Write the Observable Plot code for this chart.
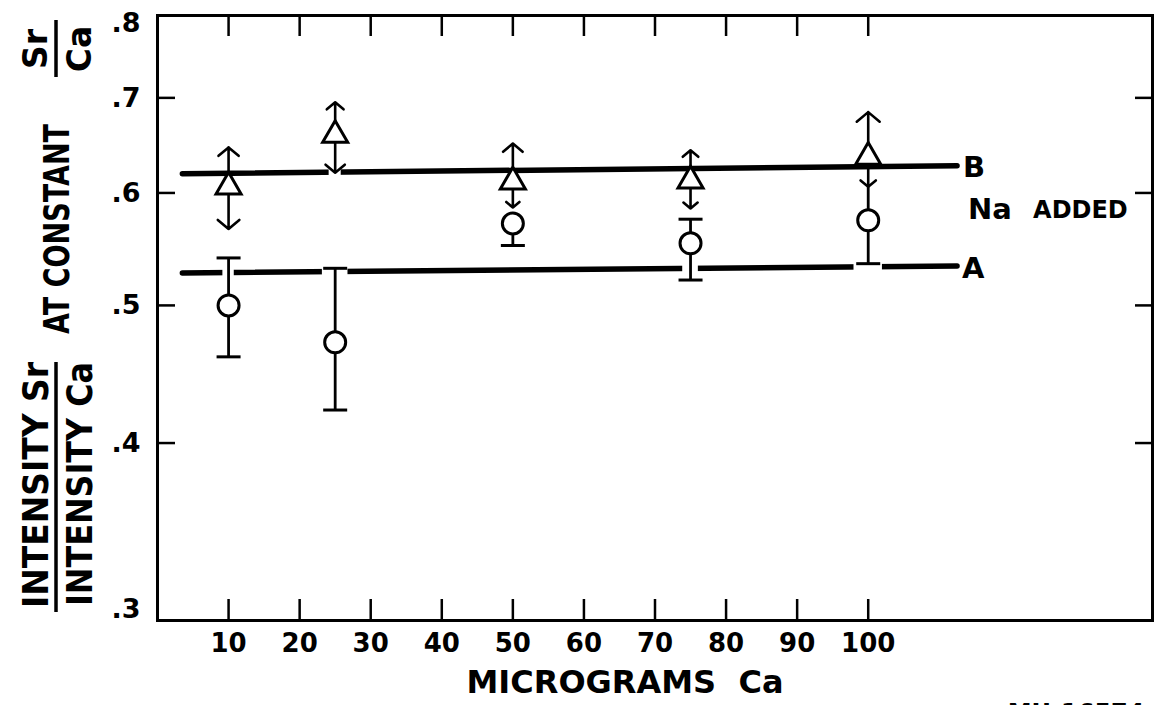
<!DOCTYPE html>
<html><head><meta charset="utf-8">
<script src="https://cdn.jsdelivr.net/npm/d3@7"></script>
<script src="https://cdn.jsdelivr.net/npm/@observablehq/plot@0.6"></script>
<style>
body{margin:0;background:#fff;}
#chart{width:1158px;height:705px;overflow:hidden;position:relative;}
</style>
</head><body><div id="chart"></div>
<script>
// ---- data ----
const microgramsCa = [10, 25, 50, 75, 100];
// curve A: Sr/Ca ratio, no Na (circles with error bars)
const ratioA = [0.500, 0.471, 0.571, 0.553, 0.574];
const lowA   = [0.460, 0.422, 0.551, 0.521, 0.535];
const highA  = [0.540, 0.531, null,  0.575, 0.606];
const capHighA = [true, true, false, true, false];
// curve B: Na added (triangles with range arrows)
const ratioB = [0.606, 0.659, 0.611, 0.612, 0.636];
const upB    = [0.646, 0.695, 0.650, 0.643, 0.684];
const downB  = [0.566, 0.620, 0.586, 0.585, 0.606];
// fitted lines
const fitX = [3.5, 112.5];
const fitA = [0.527, 0.533];
const fitB = [0.619, 0.627];
// breaks in the fitted lines where bars cross them
const gapA = [10, 25, 75, 100];
const gapAHalf = [0.8, 1.8, 1.1, 2.0];
const gapB = [25];
const gapBHalf = [0.85];
// axes
const xTicks = [10, 20, 30, 40, 50, 60, 70, 80, 90, 100];
const yTicks = [0.3, 0.4, 0.5, 0.6, 0.7, 0.8];
const yTickLabels = [".3", ".4", ".5", ".6", ".7", ".8"];
const yInnerTicks = [0.4, 0.5, 0.6, 0.7];

// ---- derived tables ----
const rows = microgramsCa.map((x, i) => ({x, a: ratioA[i], lo: lowA[i], hi: highA[i], capHi: capHighA[i], b: ratioB[i], up: upB[i], down: downB[i]}));
const caps = [];
rows.forEach(r => { caps.push({x: r.x, y: r.lo}); if (r.capHi) caps.push({x: r.x, y: r.hi}); });
const lineA = fitX.map((x, i) => ({x, y: fitA[i]}));
const lineB = fitX.map((x, i) => ({x, y: fitB[i]}));
const interp = (fit, x) => fit[0] * Math.pow(fit[1] / fit[0], (x - fitX[0]) / (fitX[1] - fitX[0]));
const gaps = [
  ...gapA.map((x, i) => ({x1: x - gapAHalf[i], x2: x + gapAHalf[i], y1: interp(fitA, x) * 0.985, y2: interp(fitA, x) * 1.015})),
  ...gapB.map((x, i) => ({x1: x - gapBHalf[i], x2: x + gapBHalf[i], y1: interp(fitB, x) * 0.985, y2: interp(fitB, x) * 1.015}))
];
const capSymbol = {draw(ctx, size) { const r = Math.sqrt(size / Math.PI); ctx.moveTo(-r, 0); ctx.lineTo(r, 0); }};
const fmtY = d => yTickLabels[yTicks.indexOf(d)];

const FONT = "DejaVu Sans";
const chart = Plot.plot({
  width: 1158, height: 705,
  marginLeft: 157, marginRight: 6, marginTop: 15, marginBottom: 85,
  style: {fontFamily: FONT, fontWeight: "bold", color: "#000", background: "#fff", overflow: "visible"},
  x: {type: "linear", domain: [0, 140], axis: null},
  y: {type: "log", domain: [0.3, 0.8], axis: null},
  marks: [
    Plot.frame({strokeWidth: 3}),
    Plot.axisX({anchor: "bottom", ticks: xTicks, tickSize: -21, tickFormat: () => "", strokeWidth: 2.5, label: null}),
    Plot.axisX({anchor: "top", ticks: xTicks, tickSize: -20, tickFormat: () => "", strokeWidth: 2.5, label: null}),
    Plot.axisX({anchor: "bottom", ticks: xTicks, tickSize: 0, tickPadding: 13, fontSize: 26, fontWeight: "bold", label: null}),
    Plot.axisY({anchor: "left", ticks: yInnerTicks, tickSize: -18, tickFormat: () => "", strokeWidth: 2.5, label: null}),
    Plot.axisY({anchor: "right", ticks: yInnerTicks, tickSize: -18, tickFormat: () => "", strokeWidth: 2.5, label: null}),
    Plot.axisY({anchor: "left", ticks: yInnerTicks, tickSize: 0, tickPadding: 17, fontSize: 27, fontWeight: "bold", tickFormat: fmtY, label: null}),
    Plot.axisY({anchor: "left", ticks: [0.8], tickSize: 0, tickPadding: 17, dy: 8, fontSize: 27, fontWeight: "bold", tickFormat: fmtY, label: null}),
    Plot.axisY({anchor: "left", ticks: [0.3], tickSize: 0, tickPadding: 17, dy: -11, fontSize: 27, fontWeight: "bold", tickFormat: fmtY, label: null}),
    Plot.line(lineA, {x: "x", y: "y", strokeWidth: 5.5, strokeLinecap: "round"}),
    Plot.line(lineB, {x: "x", y: "y", strokeWidth: 5.5, strokeLinecap: "round"}),
    Plot.rect(gaps, {x1: "x1", x2: "x2", y1: "y1", y2: "y2", fill: "white"}),
    Plot.ruleX(rows, {x: "x", y1: "lo", y2: d => d.hi ?? d.a, strokeWidth: 2.8}),
    Plot.dot(caps, {x: "x", y: "y", symbol: capSymbol, r: 12, stroke: "black", strokeWidth: 3}),
    Plot.arrow(rows, {x1: "x", x2: "x", y1: "b", y2: "up", headLength: 9, headAngle: 100, strokeWidth: 2.6, bend: 0}),
    Plot.arrow(rows, {x1: "x", x2: "x", y1: "b", y2: "down", headLength: 9, headAngle: 100, strokeWidth: 2.6, bend: 0}),
    Plot.dot(rows, {x: "x", y: "b", symbol: "triangle", r: 9.3, fill: "white", stroke: "black", strokeWidth: 3}),
    Plot.dot(rows, {x: "x", y: "a", r: 10.5, fill: "white", stroke: "black", strokeWidth: 3}),
    Plot.text(["B"], {x: fitX[1], y: fitB[1], dx: 6, dy: 2, textAnchor: "start", fontSize: 29, fontWeight: "bold"}),
    Plot.text(["A"], {x: fitX[1], y: fitA[1], dx: 5, dy: 3, textAnchor: "start", fontSize: 29, fontWeight: "bold"}),
    Plot.text(["Na"], {x: fitX[1], y: Math.sqrt(fitA[1] * fitB[1]), dx: 11, dy: -6, textAnchor: "start", fontSize: 29, fontWeight: "bold"}),
    Plot.text(["ADDED"], {x: fitX[1], y: Math.sqrt(fitA[1] * fitB[1]), dx: 76, dy: -6, textAnchor: "start", fontSize: 24, fontWeight: "bold"}),
    Plot.text(["MICROGRAMS  Ca"], {frameAnchor: "bottom", dy: 72, dx: -30, fontSize: 32, fontWeight: "bold"}),
    Plot.text(["MU-16574"], {frameAnchor: "bottom-right", dy: 100, dx: -8, textAnchor: "end", fontSize: 24, fontWeight: "bold"})
  ]
});
document.getElementById("chart").appendChild(chart);

// ---- compound y-axis title (rotated) ----
const svg = d3.select(chart);
const g = svg.append("g").attr("transform", "translate(56,612) rotate(-90)")
  .attr("font-family", FONT).attr("font-weight", "bold").attr("fill", "#000").attr("text-anchor", "start");
g.append("line").attr("x1", 0).attr("x2", 250).attr("y1", 0).attr("y2", 0).attr("stroke", "#000").attr("stroke-width", 3.5);
g.append("text").attr("x", 4).attr("y", -8).attr("font-size", 36).attr("text-anchor", "start")
  .attr("textLength", 246).attr("lengthAdjust", "spacingAndGlyphs").text("INTENSITY Sr");
g.append("text").attr("x", 6).attr("y", 36).attr("font-size", 36).attr("text-anchor", "start")
  .attr("textLength", 244).attr("lengthAdjust", "spacingAndGlyphs").text("INTENSITY Ca");
g.append("text").attr("x", 278).attr("y", 13).attr("font-size", 36).attr("text-anchor", "start")
  .attr("textLength", 210).attr("lengthAdjust", "spacingAndGlyphs").text("AT CONSTANT");
g.append("line").attr("x1", 535).attr("x2", 592).attr("y1", 0).attr("y2", 0).attr("stroke", "#000").attr("stroke-width", 3.5);
g.append("text").attr("x", 563).attr("y", -9).attr("text-anchor", "middle").attr("font-size", 33).text("Sr");
g.append("text").attr("x", 563).attr("y", 35).attr("text-anchor", "middle").attr("font-size", 33).text("Ca");
</script>
</body></html>
